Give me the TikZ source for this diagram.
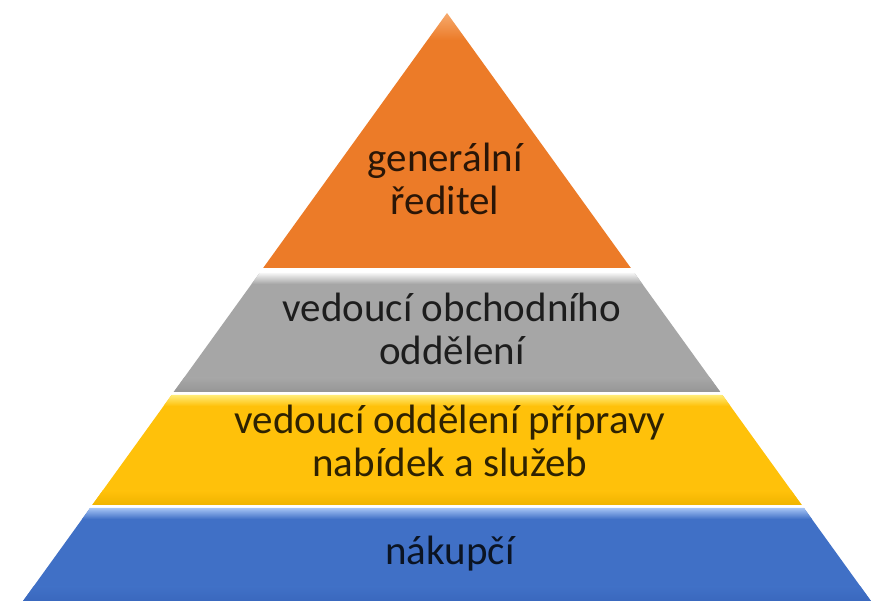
\documentclass[tikz,border=0pt]{standalone}
\usepackage{fontspec}
\setmainfont{Carlito}
\begin{document}
\begin{tikzpicture}[x=1pt,y=-1pt,
  layertext/.style={anchor=base,align=center,text=black,text opacity=0.82,
    inner sep=0pt,font=\fontsize{41}{43}\selectfont}]
\definecolor{orangeA}{RGB}{236,123,40}
\definecolor{orangeL}{RGB}{246,170,110}
\definecolor{grayA}{RGB}{166,166,166}
\definecolor{grayL}{RGB}{245,245,245}
\definecolor{grayD}{RGB}{150,150,150}
\definecolor{yellowA}{RGB}{255,193,10}
\definecolor{yellowL}{RGB}{255,236,120}
\definecolor{yellowD}{RGB}{240,180,0}
\definecolor{blueA}{RGB}{64,112,198}
\definecolor{blueL}{RGB}{165,196,245}
\definecolor{blueD}{RGB}{58,104,190}
\useasboundingbox (0,0) rectangle (879,601);
\fill[white] (0,0) rectangle (879,601);
% half width of the pyramid at height y: 0.721*(y-13), axis at x=447
\def\apx{447}
\def\k{0.721}
% one layer: #1 top y, #2 bottom y, #3 light, #4 main, #5 dark
\newcommand\pyrlayer[5]{%
  \pgfmathsetmacro\tl{\apx-\k*(#1-13)}\pgfmathsetmacro\tr{\apx+\k*(#1-13)}%
  \pgfmathsetmacro\bl{\apx-\k*(#2-13)}\pgfmathsetmacro\br{\apx+\k*(#2-13)}%
  \begin{scope}
    \clip (\tl,#1) -- (\tr,#1) -- (\br,#2) -- (\bl,#2) -- cycle;
    \fill[#4] (0,#1) rectangle (879,#2);
    \shade[top color=#3,bottom color=#4] (0,#1) rectangle (879,#1+11);
    \shade[top color=#4,bottom color=#5] (0,#2-14) rectangle (879,#2);
  \end{scope}}
% orange apex
\begin{scope}
  \clip (\apx,13) -- (\apx+\k*255,268) -- (\apx-\k*255,268) -- cycle;
  \shade[top color=orangeL,bottom color=orangeA] (0,13) rectangle (879,40);
  \fill[orangeA] (0,40) rectangle (879,268);
\end{scope}
\pyrlayer{273}{392}{grayL}{grayA}{grayD}
\pyrlayer{395}{505}{yellowL}{yellowA}{yellowD}
\pyrlayer{508}{601}{blueL}{blueA}{blueD}
% anchor=base sits on the last line's baseline
\node[layertext] (ceo) at (445,215) {generální\\ředitel};
\node[layertext] (sales) at (452,365) {vedoucí obchodního\\oddělení};
\node[layertext] (offers) at (450,477) {vedoucí oddělení přípravy\\nabídek a služeb};
\node[layertext] (buyer) at (450,565) {nákupčí};
\end{tikzpicture}
\end{document}
